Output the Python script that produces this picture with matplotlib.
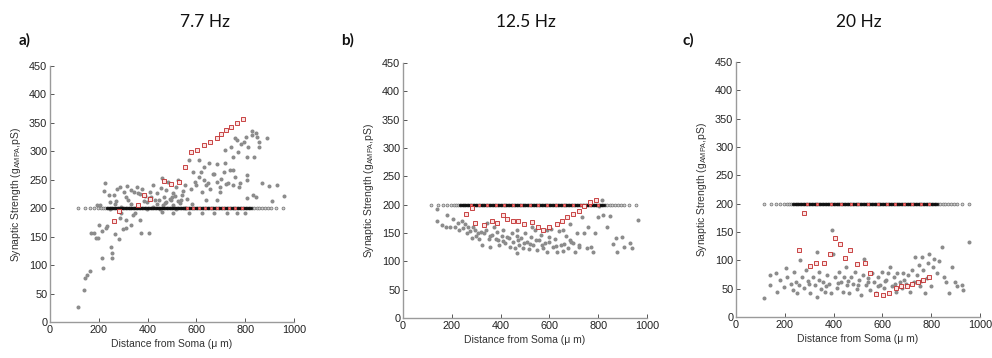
import matplotlib
matplotlib.use("Agg")
import matplotlib.pyplot as plt

# ---------------- data ----------------
titles = ["7.7 Hz", "12.5 Hz", "20 Hz"]
panel_labels = ["a)", "b)", "c)"]
x_ticks = [0, 200, 400, 600, 800, 1000]
y_ticks = [0, 50, 100, 150, 200, 250, 300, 350, 400, 450]

# initial synaptic strength (all synapses start at 200 pS)
baseline_g = 200
baseline_x = [115, 142, 165, 180, 195, 208, 218, 226, 232, 238, 244, 250, 256, 262, 268, 274,
              280, 286, 292, 298, 304, 310, 316, 322, 328, 334, 340, 346, 352, 358, 364, 370,
              376, 382, 388, 394, 400, 406, 412, 418, 424, 430, 436, 442, 448, 454, 460, 466,
              472, 478, 484, 490, 496, 502, 508, 514, 520, 526, 532, 538, 544, 550, 556, 562,
              568, 574, 580, 586, 592, 598, 604, 610, 616, 622, 628, 634, 640, 646, 652, 658,
              664, 670, 676, 682, 688, 694, 700, 706, 712, 718, 724, 730, 736, 742, 748, 754,
              760, 766, 772, 778, 784, 790, 796, 802, 808, 814, 820, 828, 838, 848, 858, 870,
              882, 895, 905, 928, 955]
# densely packed synapses (drawn darker)
baseline_dense_x = [235, 241, 247, 253, 259, 265, 271, 277, 283, 289, 295, 301, 307, 313, 319,
                    325, 331, 337, 343, 349, 355, 361, 367, 373, 379, 385, 391, 397, 403, 409,
                    415, 421, 427, 433, 439, 445, 451, 457, 463, 469, 475, 481, 487, 493, 499,
                    505, 511, 517, 523, 529, 535, 541, 547, 553, 559, 565, 571, 577, 583, 589,
                    595, 601, 607, 613, 619, 625, 631, 637, 643, 649, 655, 661, 667, 673, 679,
                    685, 691, 697, 703, 709, 715, 721, 727, 733, 739, 745, 751, 757, 763, 769,
                    775, 781, 787, 793, 799, 805, 811, 817, 823]

# ---- panel a (7.7 Hz) ----
a_gray_x = [115, 139, 142, 153, 165, 168, 180, 187, 196, 199, 214, 215, 217, 228, 232, 222, 227,
            254, 254, 252, 267, 282, 300, 311, 333, 374, 286, 313, 339, 368, 404,
            241, 246, 263, 266, 276, 286, 303, 311, 315, 334, 345, 355, 368, 379, 390, 404, 411,
            423, 437, 456, 461, 468, 476, 484, 494, 505, 516, 524, 535, 547, 555, 563, 576, 580,
            599, 610, 622, 630, 641, 655, 673, 683, 698, 719, 731, 750, 778, 809, 832, 868, 898,
            929, 959, 911, 846, 808, 800, 765, 727, 674, 622, 570, 505, 457, 397, 348, 205, 191,
            570, 587, 611, 619, 630, 652, 667, 683, 701, 712, 717, 737, 742, 750, 758, 767, 772,
            783, 795, 805, 808, 827, 835, 846, 857, 828, 850, 891, 858, 813, 759,
            593, 648, 685, 723, 775, 808, 750, 696, 641,
            396, 437, 477, 505, 532, 423, 334, 355, 293, 246, 450, 518, 553,
            320, 360, 385, 415, 445, 470, 490, 512, 540, 290, 270, 430, 465, 500, 525]
a_gray_g = [26, 57, 77, 82, 89, 157, 157, 148, 148, 171, 160, 113, 95, 165, 168, 231, 245,
            122, 113, 132, 154, 146, 164, 165, 171, 157, 182, 180, 188, 179, 157,
            224, 211, 223, 207, 234, 238, 229, 219, 239, 232, 228, 237, 225, 234, 222, 218, 229,
            241, 226, 236, 253, 220, 232, 246, 214, 226, 237, 249, 214, 230, 241, 217, 234, 207,
            241, 255, 228, 249, 214, 234, 261, 215, 229, 279, 245, 267, 245, 259, 224, 245, 239,
            240, 221, 212, 220, 218, 192, 191, 192, 192, 192, 191, 192, 193, 198, 191, 205, 205,
            285, 264, 285, 264, 273, 280, 261, 277, 251, 264, 302, 267, 308, 290, 255, 320, 299,
            313, 317, 326, 290, 329, 290, 333, 317, 335, 326, 324, 308, 308, 323,
            246, 245, 246, 243, 238, 249, 240, 238, 240,
            211, 207, 211, 205, 209, 202, 208, 202, 202, 199, 199, 199, 201,
            215, 226, 213, 219, 215, 209, 217, 221, 224, 192, 212, 214, 205, 219, 213]
a_red_x = [261, 281, 362, 385, 411, 469, 495, 529, 555, 577, 603, 630, 656, 683, 700, 722, 743,
           767, 793]
a_red_g = [177, 195, 206, 223, 216, 248, 242, 246, 272, 298, 303, 311, 317, 323, 330, 337, 343,
           349, 357]
a_red_base_x = [560, 585, 610, 635, 660, 685, 710, 735, 760, 785]

# ---- panel b (12.5 Hz) ----
b_gray_x = [141, 141, 160, 175, 182, 194, 206, 213, 224, 231, 240, 247, 253, 261, 266, 275, 283,
            294, 307, 313, 322, 333, 340, 351, 357, 366, 374, 384, 388, 395, 404, 411, 419, 428,
            439, 445, 452, 460, 466, 474, 482, 490, 500, 507, 515, 523, 534, 542, 548, 556, 564,
            572, 581, 589, 597, 607, 613, 623, 630, 641, 649, 657, 668, 676, 684, 695, 705, 713,
            723, 734, 743, 753, 760, 769, 780, 788, 798, 805, 816, 821, 835, 848, 859, 873, 876,
            898, 906, 930, 937, 964, 288, 343, 466, 527, 589, 657, 684, 466,
            300, 320, 355, 380, 410, 435, 470, 495, 520, 545, 570, 600, 625, 660, 690, 720]
b_gray_g = [192, 172, 164, 161, 181, 161, 175, 160, 168, 155, 172, 158, 166, 150, 161, 153, 141,
            155, 150, 139, 129, 150, 155, 139, 126, 147, 161, 151, 138, 129, 145, 155, 132, 143,
            125, 150, 135, 123, 145, 129, 141, 123, 150, 135, 121, 143, 129, 155, 120, 137, 147,
            123, 132, 116, 143, 157, 126, 139, 116, 153, 129, 119, 144, 123, 166, 132, 117, 150,
            129, 179, 150, 123, 161, 125, 116, 150, 179, 197, 208, 182, 161, 180, 131, 141, 117,
            143, 125, 132, 123, 173, 161, 168, 155, 161, 155, 155, 138, 114,
            145, 152, 144, 140, 136, 141, 138, 133, 130, 137, 128, 134, 127, 131, 135, 125]
b_red_x = [257, 283, 296, 332, 365, 384, 408, 425, 451, 470, 497, 529, 552, 575, 599, 630, 653,
           674, 698, 721, 743, 766, 790]
b_red_g = [184, 195, 168, 165, 172, 168, 182, 175, 171, 172, 166, 170, 161, 155, 160, 166, 172,
           178, 184, 189, 197, 204, 209]
b_red_base_x = [280, 310, 345, 380, 415, 450, 485, 520, 555, 590, 625, 660, 695, 730, 765, 800]

# ---- panel c (20 Hz) ----
c_gray_x = [115, 139, 139, 164, 167, 180, 197, 205, 210, 224, 232, 238, 246, 251, 260, 262, 269,
            279, 287, 296, 303, 314, 324, 331, 333, 342, 347, 355, 361, 366, 374, 383, 388, 393,
            399, 407, 413, 421, 429, 437, 443, 451, 456, 464, 473, 481, 486, 495, 503, 511, 519,
            525, 533, 541, 549, 557, 566, 574, 582, 590, 597, 607, 615, 623, 631, 639, 648, 656,
            661, 672, 680, 686, 697, 705, 713, 721, 730, 735, 743, 749, 754, 762, 768, 775, 781,
            787, 792, 798, 806, 811, 822, 833, 844, 852, 861, 872, 884, 898, 907, 925, 932, 956,
            300, 340, 370, 420, 460, 500, 540, 580, 610, 650, 690, 725, 760]
c_gray_g = [33, 74, 56, 77, 45, 65, 53, 86, 71, 59, 48, 80, 62, 43, 56, 100, 71,
            52, 83, 63, 42, 71, 56, 115, 36, 80, 50, 62, 95, 45, 74, 59, 42, 153,
            112, 71, 52, 80, 62, 45, 71, 89, 56, 42, 71, 59, 80, 49, 65, 39, 74,
            103, 56, 68, 48, 77, 61, 42, 71, 56, 80, 51, 66, 77, 89, 54, 71, 45,
            78, 62, 51, 77, 59, 74, 45, 83, 62, 106, 74, 92, 55, 106, 83, 42, 68,
            95, 112, 54, 89, 103, 77, 98, 124, 71, 61, 42, 89, 62, 54, 56, 48, 133,
            58, 66, 55, 60, 64, 57, 62, 55, 63, 58, 66, 60, 64]
c_red_x = [257, 279, 302, 328, 361, 385, 407, 428, 447, 469, 497, 529, 551, 575, 601, 628, 656,
           675, 699, 721, 745, 767, 790]
c_red_g = [119, 184, 90, 95, 96, 111, 140, 129, 105, 118, 93, 96, 77, 41, 39, 43, 52,
           55, 55, 58, 62, 66, 70]
c_red_base_x = [290, 330, 390, 430, 470, 500, 540, 580, 620, 650, 690, 720, 760, 790]

panels = [
    (a_gray_x, a_gray_g, a_red_x, a_red_g, a_red_base_x),
    (b_gray_x, b_gray_g, b_red_x, b_red_g, b_red_base_x),
    (c_gray_x, c_gray_g, c_red_x, c_red_g, c_red_base_x),
]

# ---------------- layout ----------------
W, H = 992, 358
fig = plt.figure(figsize=(W / 100, H / 100), dpi=100)
axes_px = [(50, 294, 66, 322), (403, 647, 63, 318), (736, 980, 62, 317)]
title_px = [(205, 22), (526, 22), (859, 22)]
label_px = [(25, 40), (348, 40), (688, 40)]

for i, (gx, gg, rx, rg, rbx) in enumerate(panels):
    l, r, t, b = axes_px[i]
    ax = fig.add_axes([l / W, 1 - b / H, (r - l) / W, (b - t) / H])
    ax.plot(gx, gg, 'o', ms=1.9, color='#8c8c8c', mec='#8c8c8c', lw=0, zorder=2)
    ax.plot(baseline_x, [baseline_g] * len(baseline_x), 'o', ms=2.1, mfc='#d0d0d0',
            mec='#707070', mew=0.5, lw=0, zorder=3)
    ax.plot(baseline_dense_x, [baseline_g] * len(baseline_dense_x), 'o', ms=1.9,
            mfc='#111111', mec='#111111', mew=0.4, lw=0, zorder=3)
    ax.plot(rbx, [baseline_g] * len(rbx), 's', ms=2.1, mfc='#f08080', mec='#e04848',
            mew=0.6, lw=0, zorder=4)
    ax.plot(rx, rg, 's', ms=2.3, mfc='#fbe4e4', mec='#c02828', mew=0.6, lw=0, zorder=4)

    ax.set_xlim(0, 1000)
    ax.set_ylim(0, 450)
    ax.set_xticks(x_ticks)
    ax.set_yticks(y_ticks)
    for s in ['top', 'right']:
        ax.spines[s].set_visible(False)
    for s in ['left', 'bottom']:
        ax.spines[s].set_color('#9a9a9a')
        ax.spines[s].set_linewidth(1.0)
    ax.tick_params(direction='in', length=3, width=0.7, color='#555555',
                   labelsize=7.8, labelcolor='#222222', pad=2)
    for lab in ax.get_xticklabels() + ax.get_yticklabels():
        lab.set_family('Liberation Sans')
    ax.set_xlabel('Distance from Soma (\u03bc m)', fontsize=7.5, family='Liberation Sans',
                  color='#333333', labelpad=3)
    ax.set_ylabel(r'Synaptic Strength (g$_{\mathregular{AMPA}}$,pS)', fontsize=7.5,
                  family='Liberation Sans', color='#333333', labelpad=4)

    tx, ty = title_px[i]
    fig.text(tx / W, 1 - ty / H, titles[i], ha='center', va='center', fontsize=12.5,
             family='Lato', color='#111111')
    lx, ly = label_px[i]
    fig.text(lx / W, 1 - ly / H, panel_labels[i], ha='center', va='center', fontsize=11,
             family='Lato', fontweight='bold', color='#111111')

fig.savefig('out.png', dpi=100)
